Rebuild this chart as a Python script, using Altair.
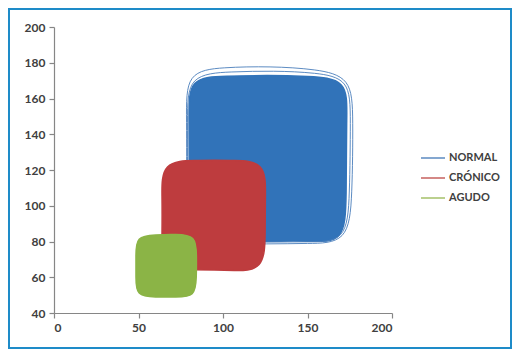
import altair as alt
import pandas as pd

SERIES = ["NORMAL", "CRÓNICO", "AGUDO"]
LINE_COLORS = ["#4A7EBB", "#C0504D", "#9BBB59"]
# fill colours, listed for the series in alphabetical order
FILL_DOMAIN = ["AGUDO", "CRÓNICO", "NORMAL"]
FILL_COLORS = ["#8BB446", "#BE3C3E", "#3173B9"]

X_TICKS = [0, 50, 100, 150, 200]
Y_TICKS = [40, 60, 80, 100, 120, 140, 160, 180, 200]

# control points of each closed, smoothed series
NORMAL_X = [79.5, 102, 126, 150, 174, 173, 173, 172, 150, 126, 103, 79.5, 80, 80]
NORMAL_Y = [172, 172.5, 173, 172.5, 171, 150, 104, 79, 80.5, 80, 80.5, 80, 104, 150]

NORMAL_LOOP1_X = [78, 100, 128, 155, 176, 177, 176.5, 174, 150, 126, 100, 78, 78.5, 78.5]
NORMAL_LOOP1_Y = [175, 177.5, 178, 176.5, 172, 150, 105, 79, 79, 78.5, 79, 79, 105, 150]
NORMAL_LOOP2_X = [79, 105, 130, 155, 175, 175.5, 175, 173, 150, 126, 102, 79, 79, 79]
NORMAL_LOOP2_Y = [173.5, 175, 175.5, 174.5, 171, 150, 105, 79.5, 80, 79.5, 80, 79.5, 105, 150]

CRONICO_X = [63.5, 85, 95, 105, 125.5, 125, 125, 124.5, 105, 95, 85, 63.5, 64, 64]
CRONICO_Y = [125, 125.3, 125.5, 125.3, 125, 105, 85, 63.5, 63.8, 64, 64.2, 64.5, 85, 105]

AGUDO_X = [48.5, 60, 72, 84, 84.3, 84.3, 83.5, 72, 60, 48.5, 48.5, 48.5]
AGUDO_Y = [83, 83.8, 84, 83.5, 72, 60, 49, 49, 48.8, 49.5, 60, 72]


def series_frame(name, xs, ys, loop="a"):
    return pd.DataFrame({"serie": name, "loop": loop, "x": xs, "y": ys, "i": list(range(len(xs)))})


x_enc = alt.X("x:Q", scale=alt.Scale(domain=[0, 200], nice=False, zero=False),
              axis=alt.Axis(values=X_TICKS, title=None, grid=False))
y_enc = alt.Y("y:Q", scale=alt.Scale(domain=[40, 200], nice=False, zero=False),
              axis=alt.Axis(values=Y_TICKS, title=None, grid=False))

fill_scale = alt.Scale(domain=FILL_DOMAIN, range=FILL_COLORS)


def fill_layer(df):
    return alt.Chart(df).mark_line(filled=True, interpolate="basis-closed", strokeWidth=1.5).encode(
        x=x_enc, y=y_enc, order="i:Q",
        fill=alt.Fill("serie:N", scale=fill_scale, legend=None),
        stroke=alt.Stroke("serie:N", scale=fill_scale, legend=None),
    )


normal_fill = fill_layer(series_frame("NORMAL", NORMAL_X, NORMAL_Y))
cronico_fill = fill_layer(series_frame("CRÓNICO", CRONICO_X, CRONICO_Y))
agudo_fill = fill_layer(series_frame("AGUDO", AGUDO_X, AGUDO_Y))

outline_df = pd.concat([
    series_frame("NORMAL", NORMAL_LOOP1_X, NORMAL_LOOP1_Y, "l1"),
    series_frame("NORMAL", NORMAL_LOOP2_X, NORMAL_LOOP2_Y, "l2"),
])
outline = alt.Chart(outline_df).mark_line(interpolate="basis-closed", strokeWidth=1, opacity=0.9).encode(
    x=x_enc, y=y_enc, order="i:Q", detail="loop:N",
    color=alt.Color("serie:N", scale=alt.Scale(domain=SERIES, range=LINE_COLORS),
                    legend=alt.Legend(title=None, orient="none", legendX=366, legendY=118,
                                      symbolType="stroke", symbolSize=576, symbolStrokeWidth=1.5,
                                      labelFont="Lato", labelFontSize=11, labelFontWeight="bold",
                                      labelColor="#404040", rowPadding=2, labelOffset=3)),
)

frame = alt.Chart(pd.DataFrame({"a": [0]})).mark_rect(fill=None, stroke="#1E8BC8", strokeWidth=2).encode(
    x=alt.value(-45), x2=alt.value(457), y=alt.value(-18), y2=alt.value(321)
)

chart = alt.layer(frame, normal_fill, outline, cronico_fill, agudo_fill).properties(
    width=338, height=286,
    autosize=alt.AutoSizeParams(type="none"),
    padding={"left": 46, "top": 19, "right": 120, "bottom": 36},
    background="white",
).configure_view(stroke=None).configure_axis(
    domainColor="#868686", tickColor="#868686", tickSize=5, domainWidth=1.2, tickWidth=1.2,
    labelFont="Lato", labelFontSize=12, labelFontWeight="bold", labelColor="#404040",
    labelPadding=4,
)

chart.save("out.html", embed_options={"renderer": "svg", "actions": False})
